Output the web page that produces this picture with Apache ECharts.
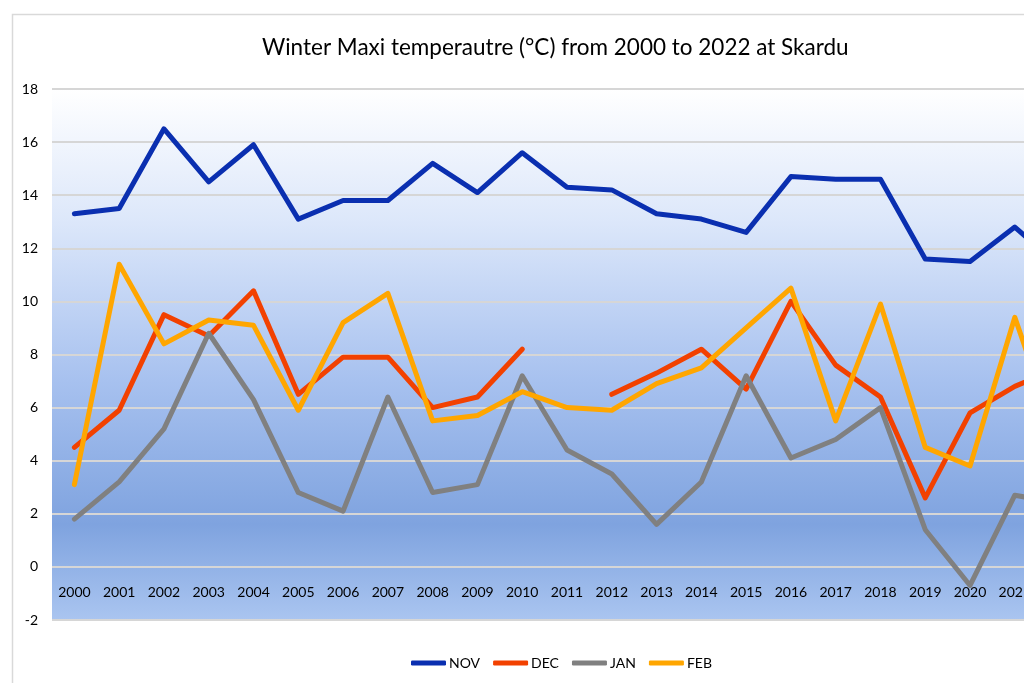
<!DOCTYPE html>
<html>
<head>
<meta charset="utf-8">
<script src="https://cdn.jsdelivr.net/npm/echarts@6/dist/echarts.min.js"></script>
<style>html,body{margin:0;padding:0;background:#fff;}#c{width:1024px;height:683px;}</style>
</head>
<body>
<div id="c"></div>
<script>
var years = ['2000','2001','2002','2003','2004','2005','2006','2007','2008','2009','2010','2011','2012','2013','2014','2015','2016','2017','2018','2019','2020','2021','2022'];
var nov = [13.3,13.5,16.5,14.5,15.9,13.1,13.8,13.8,15.2,14.1,15.6,14.3,14.2,13.3,13.1,12.6,14.7,14.6,14.6,11.6,11.5,12.8,11.3];
var dec = [4.5,5.9,9.5,8.7,10.4,6.5,7.9,7.9,6.0,6.4,8.2,null,6.5,7.3,8.2,6.7,10.0,7.6,6.4,2.6,5.8,6.8,7.5];
var jan = [1.8,3.2,5.2,8.8,6.3,2.8,2.1,6.4,2.8,3.1,7.2,4.4,3.5,1.6,3.2,7.2,4.1,4.8,6.0,1.4,-0.7,2.7,2.4];
var feb = [3.1,11.4,8.4,9.3,9.1,5.9,9.2,10.3,5.5,5.7,6.6,6.0,5.9,6.9,7.5,9.0,10.5,5.5,9.9,4.5,3.8,9.4,4.5];
var yTicks = [-2,0,2,4,6,8,10,12,14,16,18];

var FONT = 'Lato';
var chart = echarts.init(document.getElementById('c'), null, {renderer:'canvas'});
function line(name, data, color){
  return {name:name, type:'line', data:data, symbol:'none', connectNulls:false,
    lineStyle:{color:color, width:5, cap:'round', join:'round'}, itemStyle:{color:color}};
}
chart.setOption({
  animation:false,
  backgroundColor:'#ffffff',
  graphic:[{type:'rect', left:10, top:12, z:-10, shape:{x:0,y:0,width:1200,height:800},
    style:{fill:'none', stroke:'#d9d9d9', lineWidth:1.5}}],
  title:{text:'Winter Maxi temperautre (°C) from 2000 to 2022 at Skardu', left:257, top:31,
    textStyle:{fontFamily:FONT, fontSize:22.5, fontWeight:'normal', color:'#000'}},
  legend:{left:406, top:651, itemWidth:35, itemHeight:5, itemGap:13, icon:'roundRect',
    textStyle:{fontFamily:FONT, fontSize:14, color:'#000', padding:[0,0,0,-2]},
    data:['NOV','DEC','JAN','FEB']},
  grid:{left:52, top:89, height:531, width:1030, outerBoundsMode:'none', containLabel:false,
    show:true, borderWidth:0,
    backgroundColor:{type:'linear', x:0, y:0, x2:0, y2:1, colorStops:[
      {offset:0, color:'#ffffff'},
      {offset:0.25, color:'#dce7fa'},
      {offset:0.55, color:'#a7c1ef'},
      {offset:0.82, color:'#7fa3df'},
      {offset:1, color:'#aac5f0'}]}},
  xAxis:{type:'category', data:years, boundaryGap:true,
    axisLine:{show:false, onZero:false}, axisTick:{show:false},
    axisLabel:{fontFamily:FONT, fontSize:14, color:'#000', margin:-28, verticalAlign:'middle', interval:0},
    splitLine:{show:false}},
  yAxis:{type:'value', min:-2, max:18, interval:2,
    axisLine:{show:false}, axisTick:{show:false},
    axisLabel:{fontFamily:FONT, fontSize:14, color:'#000', margin:14},
    splitLine:{show:true, lineStyle:{color:'#d6d6d6', width:2}}},
  series:[line('NOV',nov,'#0a2fb0'), line('DEC',dec,'#f24100'), line('JAN',jan,'#808080'), line('FEB',feb,'#ffa600')]
});
</script>
</body>
</html>
